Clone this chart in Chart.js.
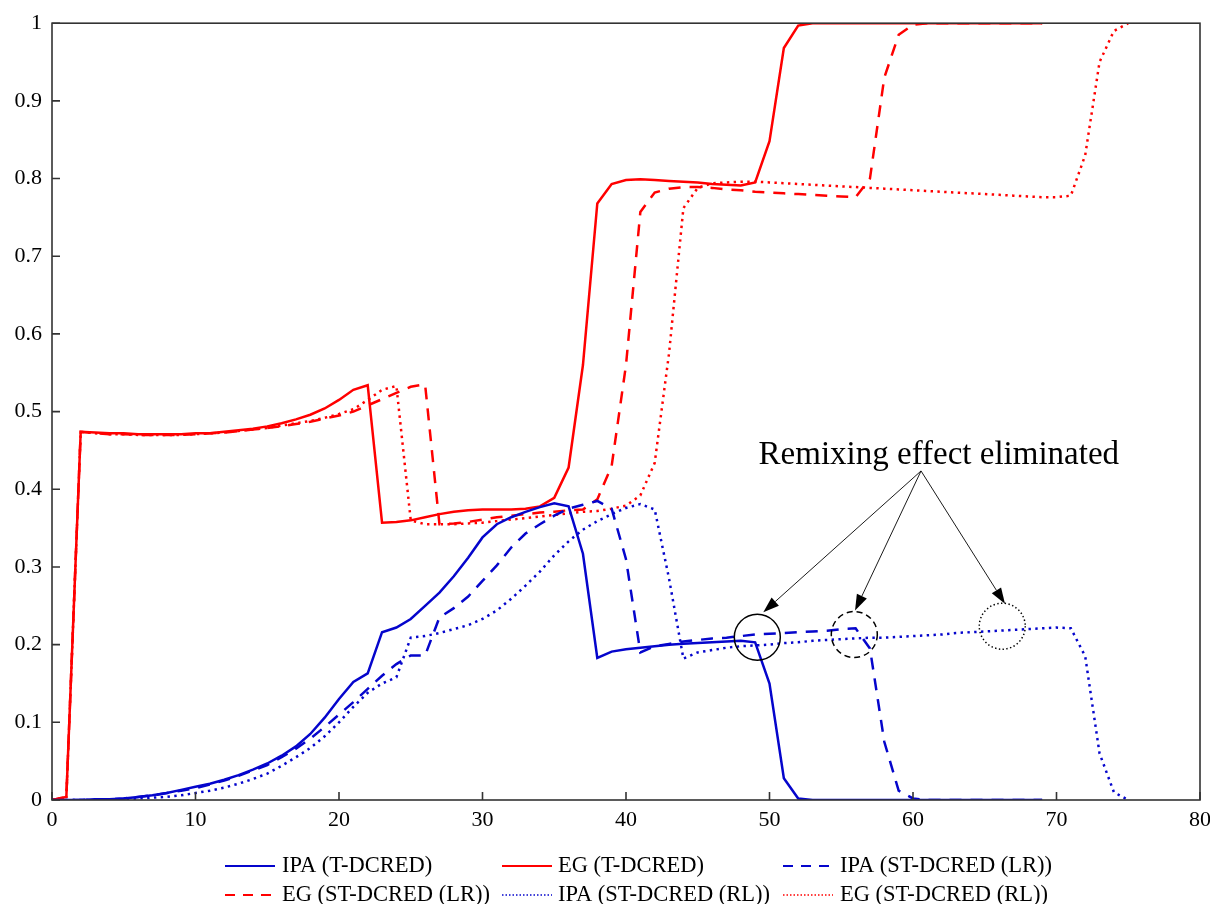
<!DOCTYPE html>
<html>
<head>
<meta charset="utf-8">
<script src="https://cdn.jsdelivr.net/npm/chart.js@4.4.1/dist/chart.umd.min.js"></script>
<style>
  html, body { margin: 0; padding: 0; background: #ffffff; }
  #wrap { width: 1210px; height: 904px; }
</style>
</head>
<body>
<div id="wrap"><canvas id="c" width="1210" height="904"></canvas></div>
<script>
// ---------------- DATA ----------------
const t = [0,1,2,3,4,5,6,7,8,9,10,11,12,13,14,15,16,17,18,19,20,21,22,23,24,25,26,27,28,29,
  30,31,32,33,34,35,36,37,38,39,40,41,42,43,44,45,46,47,48,49,50,51,52,53,54,55,56,57,58,59,
  60,61,62,63,64,65,66,67,68,69,70,71,72,73,74,75];

const xTicks = [0, 10, 20, 30, 40, 50, 60, 70, 80];
const yTickLabels = ['0','0.1','0.2','0.3','0.4','0.5','0.6','0.7','0.8','0.9','1'];

const seriesNames = ['IPA (T-DCRED)', 'EG (T-DCRED)', 'IPA (ST-DCRED (LR))',
                     'EG (ST-DCRED (LR))', 'IPA (ST-DCRED (RL))', 'EG (ST-DCRED (RL))'];

const ipaT = [0,0,0,0.001,0.001,0.002,0.004,0.006,0.009,0.013,0.017,0.021,0.026,0.032,0.039,0.047,
  0.057,0.069,0.085,0.106,0.13,0.152,0.163,0.216,0.222,0.233,0.25,0.267,0.288,0.312,0.338,0.355,
  0.364,0.371,0.377,0.382,0.378,0.317,0.183,0.191,0.194,0.196,0.198,0.2,0.201,0.202,0.203,0.204,
  0.205,0.203,0.15,0.028,0.002,0,0,0,0,0,0,0,0,0,0,0,0,0,0,0,0,0];

const egT = [0,0.004,0.474,0.473,0.472,0.472,0.471,0.471,0.471,0.471,0.472,0.472,0.474,0.476,0.478,
  0.481,0.485,0.49,0.496,0.504,0.515,0.528,0.534,0.357,0.358,0.36,0.364,0.368,0.371,0.373,0.374,
  0.374,0.374,0.375,0.378,0.389,0.428,0.56,0.768,0.793,0.798,0.799,0.798,0.797,0.796,0.795,0.793,
  0.792,0.791,0.795,0.848,0.968,0.997,1,1,1,1,1,1,1,1,1,1,1,1,1,1,1,1,1];

const ipaLR = [0,0,0,0.001,0.001,0.002,0.004,0.006,0.009,0.012,0.015,0.02,0.025,0.031,0.038,0.045,
  0.055,0.066,0.079,0.094,0.11,0.126,0.143,0.16,0.175,0.186,0.186,0.235,0.247,0.262,0.282,0.302,
  0.325,0.343,0.355,0.366,0.375,0.38,0.385,0.375,0.31,0.19,0.198,0.201,0.204,0.206,0.208,0.209,
  0.211,0.213,0.214,0.215,0.216,0.217,0.218,0.22,0.221,0.195,0.075,0.012,0.002,0,0,0,0,0,0,0,0,0];

const egLR = [0,0.004,0.474,0.472,0.471,0.471,0.47,0.47,0.47,0.47,0.471,0.472,0.473,0.475,0.477,
  0.479,0.481,0.484,0.487,0.491,0.495,0.5,0.508,0.516,0.524,0.532,0.535,0.355,0.356,0.358,0.361,
  0.364,0.366,0.368,0.37,0.371,0.373,0.374,0.387,0.43,0.56,0.757,0.782,0.787,0.789,0.789,0.788,
  0.786,0.785,0.783,0.782,0.781,0.78,0.779,0.778,0.777,0.776,0.8,0.93,0.985,0.998,1,1,1,1,1,1,1,1,1];

const ipaRL = [0,0,0,0,0.001,0.001,0.002,0.003,0.004,0.006,0.009,0.012,0.016,0.021,0.027,0.034,
  0.044,0.055,0.067,0.082,0.1,0.12,0.138,0.15,0.158,0.209,0.211,0.215,0.22,0.225,0.233,0.244,
  0.259,0.276,0.294,0.315,0.333,0.348,0.359,0.368,0.376,0.381,0.374,0.285,0.182,0.19,0.193,0.196,
  0.198,0.199,0.2,0.202,0.203,0.205,0.206,0.207,0.208,0.209,0.209,0.21,0.211,0.212,0.213,0.215,
  0.216,0.217,0.218,0.219,0.22,0.221,0.222,0.221,0.185,0.06,0.01,0];

const egRL = [0,0.004,0.474,0.472,0.471,0.471,0.47,0.47,0.47,0.47,0.471,0.472,0.473,0.475,0.477,
  0.479,0.482,0.485,0.488,0.492,0.497,0.503,0.515,0.528,0.533,0.36,0.355,0.355,0.355,0.356,0.357,
  0.359,0.361,0.363,0.365,0.367,0.369,0.371,0.372,0.375,0.379,0.392,0.434,0.575,0.762,0.788,0.794,
  0.795,0.796,0.796,0.795,0.794,0.793,0.792,0.791,0.79,0.789,0.788,0.787,0.786,0.785,0.784,0.783,
  0.782,0.781,0.78,0.779,0.778,0.777,0.776,0.776,0.778,0.83,0.95,0.99,1.0];

// annotation (data coordinates)
const calloutText = 'Remixing effect eliminated';
const calloutTextAt = { x: 61.8, y: 0.4326 };
const arrowFrom = { x: 60.56, y: 0.4236 };
const arrowTips = [ { x: 49.57, y: 0.2417 }, { x: 55.96, y: 0.2439 }, { x: 66.41, y: 0.2525 } ];
const circleCenters = [ { x: 49.15, y: 0.2096 }, { x: 55.91, y: 0.213 }, { x: 66.22, y: 0.2237 } ];

// ---------------- STYLE ----------------
const FONT = "'Liberation Serif','Times New Roman',Times,serif";
const BLUE = '#0505cc';
const RED = '#ff0000';
const DASH = [12, 9];
const DOT = [2.4, 4.4];

function pts(ys) { return ys.map((y, i) => ({ x: t[i], y: y })); }

const seriesData = [ipaT, egT, ipaLR, egLR, ipaRL, egRL];
const seriesStyle = [
  { color: BLUE, dash: [], width: 2.5, legDash: [], legWidth: 2.2 },
  { color: RED, dash: [], width: 2.5, legDash: [], legWidth: 2.2 },
  { color: BLUE, dash: DASH, width: 2.5, legDash: [10, 8], legWidth: 2.2 },
  { color: RED, dash: DASH, width: 2.5, legDash: [10, 8], legWidth: 2.2 },
  { color: BLUE, dash: DOT, width: 2.5, legDash: [1.5, 2], legWidth: 1.5 },
  { color: RED, dash: DOT, width: 2.5, legDash: [1.5, 2], legWidth: 1.5 }
];

const datasets = seriesData.map((ys, i) => ({
  label: seriesNames[i],
  data: pts(ys),
  borderColor: seriesStyle[i].color,
  backgroundColor: seriesStyle[i].color,
  borderWidth: seriesStyle[i].width,
  borderDash: seriesStyle[i].dash,
  pointRadius: 0,
  tension: 0,
  fill: false
}));

// legend layout (pixels)
const legendCols = [{ line: 225, text: 282 }, { line: 502, text: 558 }, { line: 783, text: 840 }];
const legendRows = [866, 895];
const legendLineLen = 50;

const decorPlugin = {
  id: 'decor',
  afterDatasetsDraw(chart) {
    const ctx = chart.ctx;
    const xs = chart.scales.x, ys = chart.scales.y;
    const a = chart.chartArea;
    ctx.save();
    // circles
    const circleDash = [[], [6, 4], [1.4, 2.4]];
    circleCenters.forEach((c, i) => {
      ctx.beginPath();
      ctx.setLineDash(circleDash[i]);
      ctx.lineWidth = 1.5;
      ctx.strokeStyle = '#000';
      ctx.arc(xs.getPixelForValue(c.x), ys.getPixelForValue(c.y), 23, 0, Math.PI * 2);
      ctx.stroke();
    });
    ctx.setLineDash([]);
    // arrows
    const fx = xs.getPixelForValue(arrowFrom.x), fy = ys.getPixelForValue(arrowFrom.y);
    arrowTips.forEach(tp => {
      const tx = xs.getPixelForValue(tp.x), ty = ys.getPixelForValue(tp.y);
      const ang = Math.atan2(ty - fy, tx - fx);
      const L = 16, W = 5.5;
      const bx = tx - L * Math.cos(ang), by = ty - L * Math.sin(ang);
      ctx.beginPath();
      ctx.strokeStyle = '#000';
      ctx.lineWidth = 0.9;
      ctx.moveTo(fx, fy);
      ctx.lineTo(bx, by);
      ctx.stroke();
      ctx.beginPath();
      ctx.fillStyle = '#000';
      ctx.moveTo(tx, ty);
      ctx.lineTo(bx + W * Math.sin(ang), by - W * Math.cos(ang));
      ctx.lineTo(bx - W * Math.sin(ang), by + W * Math.cos(ang));
      ctx.closePath();
      ctx.fill();
    });
    // callout text
    ctx.fillStyle = '#000';
    ctx.font = '33px ' + FONT;
    ctx.textAlign = 'center';
    ctx.textBaseline = 'alphabetic';
    ctx.fillText(calloutText, xs.getPixelForValue(calloutTextAt.x), ys.getPixelForValue(calloutTextAt.y));

    // box
    ctx.strokeStyle = '#333';
    ctx.lineWidth = 1.6;
    ctx.strokeRect(a.left, a.top, a.right - a.left, a.bottom - a.top);
    // inward ticks
    ctx.beginPath();
    xs.ticks.forEach(tk => {
      const px = xs.getPixelForValue(tk.value);
      ctx.moveTo(px, a.bottom);
      ctx.lineTo(px, a.bottom - 8);
    });
    ys.ticks.forEach(tk => {
      const py = ys.getPixelForValue(tk.value);
      ctx.moveTo(a.left, py);
      ctx.lineTo(a.left + 8, py);
    });
    ctx.stroke();

    // legend
    ctx.font = '22.5px ' + FONT;
    ctx.textAlign = 'left';
    ctx.textBaseline = 'middle';
    seriesNames.forEach((name, i) => {
      const col = legendCols[i % 3], row = legendRows[Math.floor(i / 3)];
      const st = seriesStyle[i];
      ctx.beginPath();
      ctx.setLineDash(st.legDash);
      ctx.strokeStyle = st.color;
      ctx.lineWidth = st.legWidth;
      ctx.moveTo(col.line, row);
      ctx.lineTo(col.line + legendLineLen, row);
      ctx.stroke();
      ctx.setLineDash([]);
      ctx.fillStyle = '#000';
      ctx.fillText(name, col.text, row);
    });
    ctx.restore();
  }
};

new Chart(document.getElementById('c'), {
  type: 'line',
  data: { datasets: datasets },
  options: {
    responsive: false,
    animation: false,
    devicePixelRatio: 1,
    layout: { padding: { top: 21, right: 10, bottom: 64, left: 0 } },
    plugins: { legend: { display: false }, tooltip: { enabled: false } },
    scales: {
      x: {
        type: 'linear', min: 0, max: 80,
        afterBuildTicks(s) { s.ticks = xTicks.map(v => ({ value: v })); },
        afterFit(s) { s.height = 40; s.paddingRight = 0; s.paddingLeft = 0; },
        grid: { display: false, drawTicks: false },
        border: { display: false },
        ticks: { color: '#000', font: { family: FONT, size: 22 }, padding: 7, maxRotation: 0,
                 callback: (v) => String(v) }
      },
      y: {
        type: 'linear', min: 0, max: 1,
        ticks: { stepSize: 0.1, color: '#000', font: { family: FONT, size: 22 }, padding: 10,
                 callback: (v, i) => yTickLabels[i] },
        afterFit(s) { s.width = 52; },
        grid: { display: false, drawTicks: false },
        border: { display: false }
      }
    }
  },
  plugins: [decorPlugin]
});
</script>
</body>
</html>
